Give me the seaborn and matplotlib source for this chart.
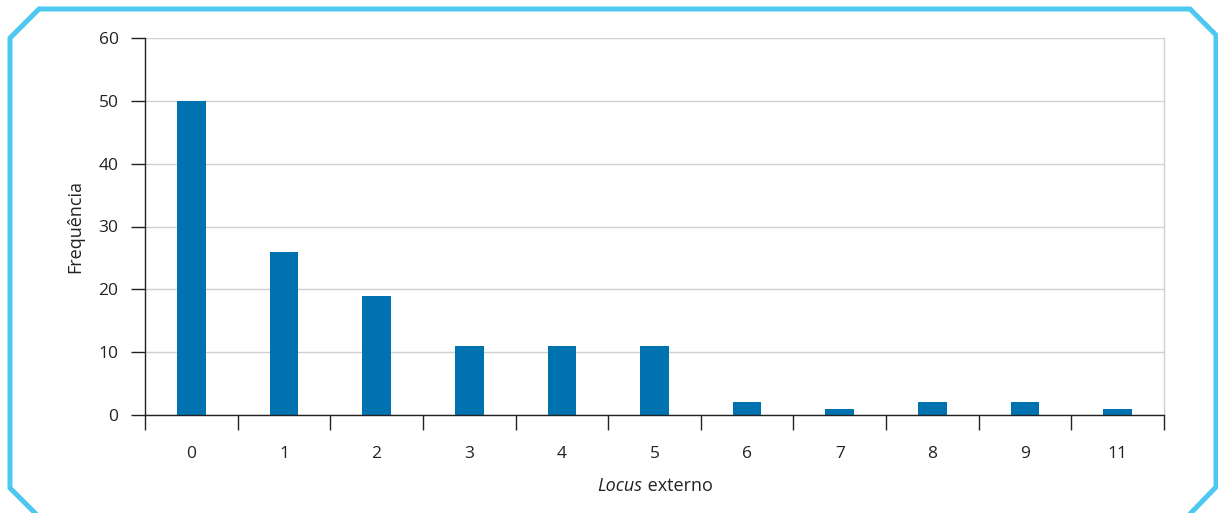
import matplotlib
matplotlib.use("Agg")
import matplotlib.pyplot as plt
import seaborn as sns
import pandas as pd
from matplotlib.lines import Line2D
from matplotlib.ticker import MultipleLocator, FixedLocator

# data
categories = ["0", "1", "2", "3", "4", "5", "6", "7", "8", "9", "11"]
frequencies = [50, 26, 19, 11, 11, 11, 2, 1, 2, 2, 1]

sns.set_theme(style="white")
plt.rcParams['font.family'] = ['Open Sans', 'DejaVu Sans']

W, H = 1218, 513
fig = plt.figure(figsize=(W / 100, H / 100), dpi=100)
ax = fig.add_axes([145 / W, 1 - 415 / H, (1164 - 145) / W, (415 - 38) / H])

df = pd.DataFrame({"locus": categories, "freq": frequencies})
sns.barplot(data=df, x="locus", y="freq", color="#0072B0", width=0.31,
            saturation=1, linewidth=0, ax=ax)

ax.set_xlim(-0.5, len(categories) - 0.5)
ax.set_ylim(0, 60)
ax.yaxis.set_major_locator(MultipleLocator(10))
ax.grid(axis="y", color="#d0d0d0", linewidth=1)
ax.set_axisbelow(True)

ax.spines["top"].set_visible(False)
ax.spines["right"].set_color("#d0d0d0")
ax.spines["left"].set_color("#222222")
ax.spines["bottom"].set_color("#222222")
for s in ["left", "bottom", "right"]:
    ax.spines[s].set_linewidth(1)

ax.tick_params(axis="y", length=10, width=1, color="#222222", pad=9,
               labelsize=12.5, labelcolor="#222222", left=True)
ax.tick_params(axis="x", which="major", length=0, pad=22,
               labelsize=12.5, labelcolor="#222222")
ax.xaxis.set_minor_locator(FixedLocator([i - 0.5 for i in range(len(categories) + 1)]))
ax.tick_params(axis="x", which="minor", length=11, width=1, color="#222222",
               bottom=True)

ax.set_xlabel("")
ax.set_ylabel("")
fig.text(75 / W, 1 - 227 / H, "Frequência", rotation=90, fontsize=13,
         color="#222222", ha="center", va="center")

# x label with italic "Locus"
xl_y = 1 - 486 / H
t1 = fig.text(0, xl_y, "Locus", style="italic", fontsize=13, color="#222222",
              va="center", ha="left")
t2 = fig.text(0, xl_y, " externo", fontsize=13, color="#222222",
              va="center", ha="left")
fig.canvas.draw()
r = fig.canvas.get_renderer()
w1 = t1.get_window_extent(r).width
w2 = t2.get_window_extent(r).width
start = 655 - (w1 + w2) / 2
t1.set_x(start / W)
t2.set_x((start + w1) / W)

# frame
px = [38, 10, 10, 39, 1190, 1216, 1216, 1188]
py = [516, 488, 38, 9, 9, 35, 487, 516]
fig.add_artist(Line2D([x / W for x in px], [1 - y / H for y in py],
                      color="#4DC8F0", linewidth=3.6, solid_joinstyle="miter",
                      transform=fig.transFigure))

fig.savefig("out.png", dpi=100)
